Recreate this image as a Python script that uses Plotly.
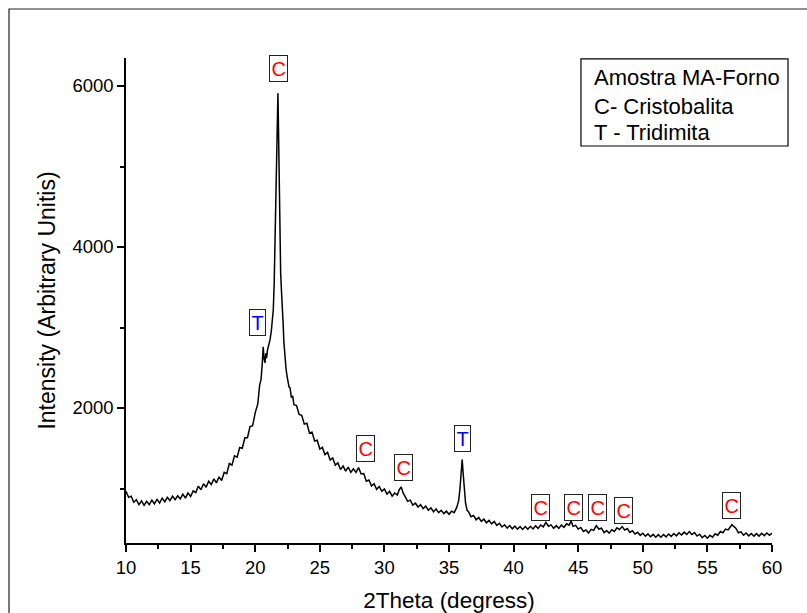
import plotly.graph_objects as go

# ---- data ----
two_theta = [
    10.0, 10.2, 10.4, 10.6, 10.8, 11.0, 11.2, 11.4, 11.6, 11.8,
    12.0, 12.2, 12.4, 12.6, 12.8, 13.0, 13.2, 13.4, 13.6, 13.8,
    14.0, 14.2, 14.4, 14.6, 14.8, 15.0, 15.2, 15.4, 15.6, 15.8,
    16.0, 16.2, 16.4, 16.6, 16.8, 17.0, 17.2, 17.4, 17.6, 17.8,
    18.0, 18.2, 18.4, 18.6, 18.8, 19.0, 19.2, 19.4, 19.6, 19.8,
    20.0, 20.2,
    20.35, 20.45, 20.55, 20.62, 20.68, 20.76, 20.82, 20.88, 20.95, 21.05,
    21.15, 21.25, 21.33, 21.4, 21.47, 21.53, 21.6, 21.66, 21.72, 21.76,
    21.8, 21.84, 21.88, 21.92, 21.97, 22.02, 22.07, 22.12, 22.17, 22.22,
    22.3, 22.38, 22.46, 22.54, 22.62, 22.7, 22.8, 22.9, 23.0,
    23.2, 23.4, 23.6, 23.8, 24.0, 24.2, 24.4, 24.6, 24.8, 25.0,
    25.2, 25.4, 25.6, 25.8, 26.0, 26.2, 26.4, 26.6, 26.8, 27.0,
    27.2, 27.4, 27.6, 27.8, 28.0, 28.2, 28.4, 28.6, 28.8, 29.0,
    29.2, 29.4, 29.6, 29.8, 30.0, 30.2, 30.4, 30.6, 30.8, 31.0,
    31.15, 31.3, 31.45,
    31.6, 31.8, 32.0, 32.2, 32.4, 32.6, 32.8, 33.0, 33.2, 33.4,
    33.6, 33.8, 34.0, 34.2, 34.4, 34.6, 34.8, 35.0, 35.2, 35.4,
    35.6,
    35.75, 35.85, 35.95, 36.02, 36.1, 36.18, 36.28, 36.4,
    36.5, 36.7, 36.9,
    37.1, 37.3, 37.5, 37.7, 37.9, 38.1, 38.3, 38.5, 38.7, 38.9,
    39.1, 39.3, 39.5, 39.7, 39.9, 40.1, 40.3, 40.5, 40.7, 40.9,
    41.1, 41.3, 41.5, 41.7, 41.9, 42.1, 42.3, 42.5, 42.7, 42.9,
    43.1, 43.3, 43.5, 43.7, 43.9, 44.1, 44.3, 44.45, 44.6, 44.8,
    45.0, 45.2, 45.4, 45.6, 45.8, 46.0, 46.2, 46.4, 46.6, 46.8,
    47.0, 47.2, 47.4, 47.6, 47.8, 48.0, 48.2, 48.4, 48.6, 48.8,
    49.0, 49.2, 49.4, 49.6, 49.8, 50.0, 50.2, 50.4, 50.6, 50.8,
    51.0, 51.2, 51.4, 51.6, 51.8, 52.0, 52.2, 52.4, 52.6, 52.8,
    53.0, 53.2, 53.4, 53.6, 53.8, 54.0, 54.2, 54.4, 54.6, 54.8,
    55.0, 55.2, 55.4, 55.6, 55.8, 56.0, 56.2, 56.4, 56.6, 56.8,
    56.9,
    57.0, 57.2, 57.4, 57.6, 57.8, 58.0, 58.2, 58.4, 58.6, 58.8,
    59.0, 59.2, 59.4, 59.6, 59.8, 60.0,
]

intensity = [
    965, 890, 905, 830, 860, 800, 845, 790, 840, 800,
    855, 810, 865, 820, 880, 835, 890, 850, 905, 860,
    910, 870, 930, 880, 945, 900, 970, 950, 1030, 985,
    1060, 1015, 1090, 1050, 1120, 1070, 1145, 1100, 1200, 1185,
    1310, 1290, 1405, 1390, 1510, 1500, 1630, 1630, 1770, 1780,
    1940, 2050,
    2290, 2350, 2560, 2760, 2620, 2560, 2680, 2620, 2720, 2780,
    2850, 2960, 3080, 3220, 3550, 4080, 4650, 5250, 5700, 5910,
    5500, 4900, 4300, 3880, 3680, 3500, 3380, 3200, 3020, 2820,
    2620, 2500, 2400, 2340, 2260, 2250, 2130, 2150, 2040,
    2030, 1920, 1910, 1800, 1810, 1690, 1700, 1590, 1600, 1490,
    1510, 1420, 1450, 1355, 1380, 1290, 1320, 1235, 1280, 1215,
    1265, 1200, 1245, 1200, 1260, 1180, 1185, 1090, 1105, 1030,
    1060, 990, 1025, 965, 995, 930, 965, 905, 945, 920,
    985, 1020, 945,
    905, 840, 855, 795, 820, 770, 800, 750, 780, 730,
    760, 712, 745, 700, 730, 688, 718, 680, 718, 700,
    765,
    850, 1000, 1250, 1360, 1180, 980, 820, 730,
    715, 650, 665,
    612, 640, 592, 620, 574, 603, 560, 590, 542, 568,
    522, 550, 508, 540, 500, 533, 495, 528, 492, 528,
    494, 530, 498, 536, 505, 546, 524, 578, 532, 548,
    505, 538, 505, 545, 518, 562, 545, 595, 530, 542,
    496, 516, 466, 485, 446, 492, 480, 538, 496, 507,
    453, 477, 446, 488, 466, 512, 490, 527, 484, 502,
    454, 476, 434, 456, 418, 444, 408, 436, 400, 430,
    395, 427, 394, 429, 399, 435, 405, 441, 412, 450,
    422, 458, 430, 465, 428, 452, 409, 432, 390, 416,
    383, 418, 394, 438, 420, 466, 450, 496, 485, 540,
    550,
    535, 508, 450, 462, 421, 448, 412, 441, 408, 439,
    409, 444, 414, 448, 419, 445,
]

# peak identification labels
peak_letters = ["C", "T", "C", "C", "T", "C", "C", "C", "C", "C"]
peak_label_x = [21.78, 20.14, 28.5, 31.44, 36.08, 42.12, 44.6, 46.46, 48.54, 56.83]
peak_label_y = [6223, 3068, 1503, 1267, 1627, 770, 770, 770, 721, 795]
letter_colors = {"C": "#ff0000", "T": "#0000ff"}

legend_lines = ["Amostra MA-Forno", "C- Cristobalita", "T - Tridimita"]

x_title = "2Theta (degress)"
y_title = "Intensity (Arbitrary Unitis)"

FONT = "Arial, 'Liberation Sans', sans-serif"

fig = go.Figure()
fig.add_trace(go.Scatter(
    x=two_theta, y=intensity, mode="lines",
    line=dict(color="black", width=1.5),
    showlegend=False, hoverinfo="skip",
))

axis_common = dict(
    showgrid=False, zeroline=False, showline=True, linecolor="black",
    linewidth=1.5, ticks="outside", ticklen=7, tickwidth=1.5,
    tickcolor="black", mirror=False, automargin=False,
    tickfont=dict(family=FONT, size=18.5, color="black"),
)

fig.update_xaxes(
    range=[10, 60], tick0=10, dtick=5,
    minor=dict(ticks="outside", dtick=2.5, ticklen=4, tickwidth=1.5,
               tickcolor="black", showgrid=False),
    title=dict(text=x_title, font=dict(family=FONT, size=22.5, color="black"),
               standoff=15),
    **axis_common,
)
fig.update_yaxes(
    range=[323, 6348], tick0=0, dtick=2000,
    minor=dict(ticks="outside", dtick=1000, ticklen=4, tickwidth=1.5,
               tickcolor="black", showgrid=False),
    title=dict(text=y_title, font=dict(family=FONT, size=23, color="black"),
               standoff=10),
    **axis_common,
)

annotations = []
for letter, px, py in zip(peak_letters, peak_label_x, peak_label_y):
    annotations.append(dict(
        x=px, y=py, xref="x", yref="y", text=letter, showarrow=False,
        font=dict(family=FONT, size=20, color=letter_colors[letter]),
        bordercolor="#222222", borderwidth=1, borderpad=1.5,
        bgcolor="white", xanchor="center", yanchor="middle",
    ))

legend_y = [0.9588, 0.8998, 0.8454]
for line, ly in zip(legend_lines, legend_y):
    annotations.append(dict(
        x=0.7214, y=ly, xref="paper", yref="paper", text=line,
        showarrow=False, xanchor="left", yanchor="middle",
        font=dict(family=FONT, size=22, color="black"),
    ))

shapes = [
    # legend frame
    dict(type="rect", xref="paper", yref="paper",
         x0=0.7043, x1=1.0248, y0=0.8186, y1=0.998,
         line=dict(color="black", width=1.2), fillcolor="rgba(0,0,0,0)"),
    # outer page frame
    dict(type="rect", xref="paper", yref="paper",
         x0=-0.1811, x1=1.2, y0=-0.25, y1=1.101,
         line=dict(color="#222222", width=1.2), fillcolor="rgba(0,0,0,0)"),
]

fig.update_layout(
    width=807, height=613,
    margin=dict(l=126, r=35, t=58, b=70, autoexpand=False),
    paper_bgcolor="white", plot_bgcolor="white",
    annotations=annotations, shapes=shapes,
    font=dict(family=FONT, color="black"),
)

fig.write_html("out.html")
